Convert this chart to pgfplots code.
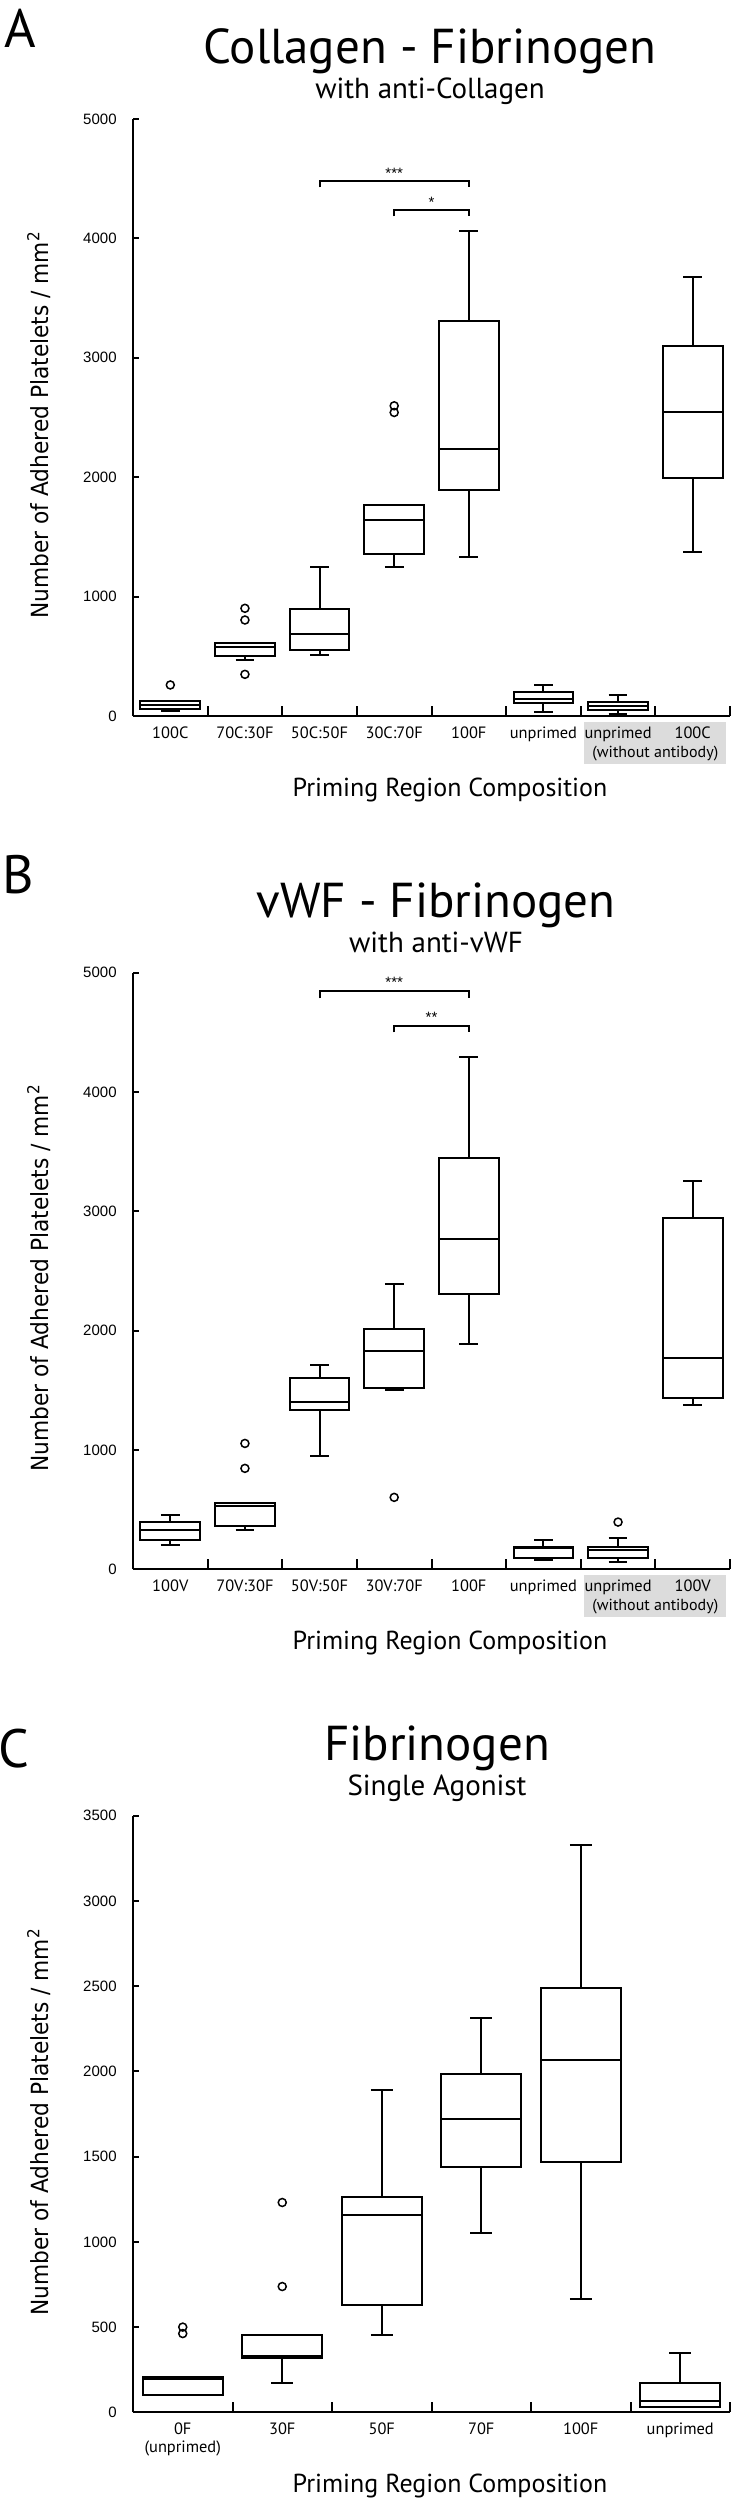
\documentclass[border=0pt]{standalone}
\usepackage{fontspec}
\setmainfont{PT Sans}
\newfontfamily\numfont{Liberation Sans}
\newfontfamily\labfont[FakeStretch=0.92]{DejaVu Sans}
\usepackage{pgfplots}
\pgfplotsset{compat=1.18}
\usepgfplotslibrary{statistics}
\definecolor{lg}{RGB}{220,220,220}

\newcommand{\bx}[7]{%
\addplot[black, solid, line width=1pt, mark=o, mark size=2pt, mark options={line width=0.75pt, solid},
 boxplot prepared={draw position=#1, lower whisker=#2, lower quartile=#3, median=#4, upper quartile=#5, upper whisker=#6}] #7;}

\pgfplotsset{base/.style={
 scale only axis, width=298.5pt, xmin=0.5, ymin=0,
 axis x line*=bottom, axis y line*=left,
 axis line style={line width=1.1pt,-},
 tick align=inside, major tick length=3pt, minor tick length=5pt,
 tick style={black, line width=1pt},
 major x tick style={draw=none},
 clip=false, scaled y ticks=false,
 /pgf/number format/assume math mode=true,
 /pgf/number format/1000 sep={},
 yticklabel style={font=\numfont\fontsize{7.5}{9}\selectfont, anchor=east, inner sep=0pt, xshift=-8pt},
 xticklabel style={font=\fontsize{8.2}{9.6}\selectfont, anchor=base, inner sep=0pt, yshift=-11pt},
 boxplot/draw direction=y,
 boxplot/box extend=0.8,
 boxplot/whisker extend=0.25,
}}

\begin{document}
\begin{tikzpicture}[x=1pt,y=1pt]
\path (0,0) rectangle (365.5,-1250);
\fill[lg] (292,-361) rectangle (363,-382);
\fill[lg] (292,-787.5) rectangle (363,-808.5);

% ---------------- Panel A
\begin{axis}[base, at={(66.5pt,-358pt)}, anchor=south west,
 height=298.5pt, xmax=8.5, ymax=5000,
 ytick={0,1000,2000,3000,4000,5000},
 xtick={1,2,3,4,5,6,7,8},
 xticklabels={100C,70C:30F,50C:50F,30C:70F,100F,unprimed,unprimed,100C},
 minor xtick={1.5,2.5,3.5,4.5,5.5,6.5,7.5,8.5}]
\bx{1}{42}{59}{92}{126}{126}{table[row sep=\\,y index=0]{v\\ 260\\}}
\bx{2}{466}{503}{581}{615}{615}{table[row sep=\\,y index=0]{v\\ 902\\ 804\\ 349\\}}
\bx{3}{508}{550}{684}{899}{1251}{coordinates {}}
\bx{4}{1251}{1355}{1642}{1765}{1765}{table[row sep=\\,y index=0]{v\\ 2598\\ 2542\\}}
\bx{5}{1335}{1891}{2240}{3305}{4065}{coordinates {}}
\bx{6}{34}{112}{145}{201}{260}{coordinates {}}
\bx{7}{14}{50}{84}{117}{176}{coordinates {}}
\bx{8}{1374}{1992}{2542}{3096}{3674}{coordinates {}}
\draw[line width=1pt] (axis cs:3,4428) -- (axis cs:3,4484) -- (axis cs:5,4484) -- (axis cs:5,4428);
\draw[line width=1pt] (axis cs:4,4185) -- (axis cs:4,4241) -- (axis cs:5,4241) -- (axis cs:5,4185);
\node[font=\numfont\fontsize{7.5}{9}\selectfont, anchor=base, inner sep=0pt] at (axis cs:4,4504) {***};
\node[font=\numfont\fontsize{7.5}{9}\selectfont, anchor=base, inner sep=0pt] at (axis cs:4.5,4260) {*};
\node[font=\fontsize{8}{9.6}\selectfont, anchor=base, inner sep=0pt, yshift=-20.75pt] at (axis cs:7.5,0) {(without antibody)};
\end{axis}

% ---------------- Panel B
\begin{axis}[base, at={(66.5pt,-784.65pt)}, anchor=south west,
 height=298.3pt, xmax=8.5, ymax=5000,
 ytick={0,1000,2000,3000,4000,5000},
 xtick={1,2,3,4,5,6,7,8},
 xticklabels={100V,70V:30F,50V:50F,30V:70F,100F,unprimed,unprimed,100V},
 minor xtick={1.5,2.5,3.5,4.5,5.5,6.5,7.5,8.5}]
\bx{1}{204}{246}{329}{394}{455}{coordinates {}}
\bx{2}{329}{366}{530}{558}{558}{table[row sep=\\,y index=0]{v\\ 1055\\ 846\\}}
\bx{3}{946}{1337}{1401}{1605}{1711}{coordinates {}}
\bx{4}{1502}{1521}{1831}{2018}{2389}{table[row sep=\\,y index=0]{v\\ 603\\}}
\bx{5}{1892}{2305}{2771}{3445}{4292}{coordinates {}}
\bx{6}{78}{98}{176}{184}{246}{coordinates {}}
\bx{7}{59}{98}{162}{184}{265}{table[row sep=\\,y index=0]{v\\ 396\\}}
\bx{8}{1379}{1440}{1772}{2944}{3255}{coordinates {}}
\draw[line width=1pt] (axis cs:3,4786) -- (axis cs:3,4847) -- (axis cs:5,4847) -- (axis cs:5,4786);
\draw[line width=1pt] (axis cs:4,4501) -- (axis cs:4,4557) -- (axis cs:5,4557) -- (axis cs:5,4501);
\node[font=\numfont\fontsize{7.5}{9}\selectfont, anchor=base, inner sep=0pt] at (axis cs:4,4880) {***};
\node[font=\numfont\fontsize{7.5}{9}\selectfont, anchor=base, inner sep=0pt] at (axis cs:4.5,4586) {**};
\node[font=\fontsize{8}{9.6}\selectfont, anchor=base, inner sep=0pt, yshift=-20.75pt] at (axis cs:7.5,0) {(without antibody)};
\end{axis}

% ---------------- Panel C
\begin{axis}[base, at={(66.5pt,-1206.15pt)}, anchor=south west,
 height=298.3pt, xmax=6.5, ymax=3500,
 boxplot/whisker extend=0.22,
 ytick={0,500,1000,1500,2000,2500,3000,3500},
 xtick={1,2,3,4,5,6},
 xticklabels={0F,30F,50F,70F,100F,unprimed},
 minor xtick={1.5,2.5,3.5,4.5,5.5,6.5}]
\bx{1}{101}{101}{193}{209}{209}{table[row sep=\\,y index=0]{v\\ 500\\ 462\\}}
\bx{2}{174}{316}{330}{454}{454}{table[row sep=\\,y index=0]{v\\ 1231\\ 738\\}}
\bx{3}{454}{630}{1157}{1264}{1893}{coordinates {}}
\bx{4}{1053}{1439}{1719}{1983}{2313}{coordinates {}}
\bx{5}{666}{1470}{2069}{2489}{3329}{coordinates {}}
\bx{6}{33}{33}{69}{174}{347}{coordinates {}}
\node[font=\fontsize{8.2}{9.6}\selectfont, anchor=base, inner sep=0pt, yshift=-20pt] at (axis cs:1,0) {(unprimed)};
\end{axis}

% ---------------- texts
\node[anchor=base west, inner sep=0pt, font=\fontsize{27}{30}\selectfont] at (2,-23.5) {A};
\node[anchor=base west, inner sep=0pt, font=\fontsize{27}{30}\selectfont] at (1,-446.5) {B};
\node[anchor=base west, inner sep=0pt, font=\fontsize{27}{30}\selectfont] at (-1,-883.5) {C};

\node[anchor=base, inner sep=0pt, font=\fontsize{24.5}{28}\selectfont] at (215,-31.5) {Collagen - Fibrinogen};
\node[anchor=base, inner sep=0pt, font=\fontsize{14.5}{17}\selectfont] at (215,-49) {with anti-Collagen};
\node[anchor=base, inner sep=0pt, font=\fontsize{24.5}{28}\selectfont] at (218,-458.5) {vWF - Fibrinogen};
\node[anchor=base, inner sep=0pt, font=\fontsize{14.5}{17}\selectfont] at (218,-476) {with anti-vWF};
\node[anchor=base, inner sep=0pt, font=\fontsize{24.5}{28}\selectfont] at (218.5,-880) {Fibrinogen};
\node[anchor=base, inner sep=0pt, font=\fontsize{14.5}{17}\selectfont] at (218.5,-897.5) {Single Agonist};

\node[anchor=base, inner sep=0pt, font=\fontsize{13}{15}\selectfont] at (225,-398) {Priming Region Composition};
\node[anchor=base, inner sep=0pt, font=\fontsize{13}{15}\selectfont] at (225,-824.5) {Priming Region Composition};
\node[anchor=base, inner sep=0pt, font=\fontsize{13}{15}\selectfont] at (225,-1246) {Priming Region Composition};

\node[rotate=90, anchor=base, inner sep=0pt, font=\labfont\fontsize{11.8}{14}\selectfont] at (24,-212.5) {Number of Adhered Platelets / mm\textsuperscript{2}};
\node[rotate=90, anchor=base, inner sep=0pt, font=\labfont\fontsize{11.8}{14}\selectfont] at (24,-639) {Number of Adhered Platelets / mm\textsuperscript{2}};
\node[rotate=90, anchor=base, inner sep=0pt, font=\labfont\fontsize{11.8}{14}\selectfont] at (24,-1061) {Number of Adhered Platelets / mm\textsuperscript{2}};

\pgfresetboundingbox
\useasboundingbox (0,0) rectangle (365.5,-1250);
\end{tikzpicture}
\end{document}
